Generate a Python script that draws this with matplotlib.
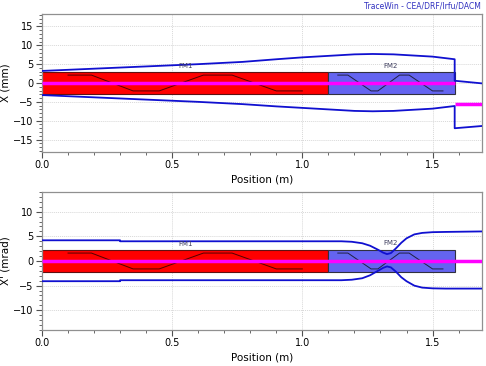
import matplotlib
matplotlib.use("Agg")
import matplotlib.pyplot as plt
from matplotlib.patches import Rectangle
from matplotlib.ticker import MultipleLocator

# elements
fm1_start, fm1_end = 0.0, 1.1
fm2_start, fm2_end = 1.1, 1.585
x_end = 1.69

# field profile (normalised, drawn at 70% of box height)
fm1_wave_x = [0.1, 0.19, 0.35, 0.45, 0.62, 0.73, 0.9, 1.0]
fm1_wave_y = [1, 1, -1, -1, 1, 1, -1, -1]
fm2_wave_x = [1.136, 1.175, 1.264, 1.29, 1.373, 1.41, 1.50, 1.54]
fm2_wave_y = [1, 1, -1, -1, 1, 1, -1, -1]

# X envelope (mm)
env_x = [0, 0.2, 0.4, 0.6, 0.77, 0.9, 1.0, 1.1, 1.2, 1.27, 1.35, 1.45, 1.5, 1.585, 1.585, 1.69]
env_x_up = [3.2, 3.8, 4.4, 5.0, 5.6, 6.3, 6.8, 7.2, 7.6, 7.7, 7.6, 7.2, 7.0, 6.3, 0.6, -0.1]
env_x_lo = [-3.2, -3.8, -4.4, -5.0, -5.6, -6.2, -6.6, -7.0, -7.4, -7.5, -7.4, -7.0, -6.8, -6.1, -12.0, -11.4]
centroid_x_pos = [0, 1.585, float("nan"), 1.585, 1.69]
centroid_x = [0, 0, float("nan"), -5.5, -5.5]

# X' envelope (mrad)
env_xp = [0, 0.3, 0.3, 1.15, 1.19, 1.23, 1.26, 1.29, 1.31, 1.325, 1.34, 1.36, 1.38, 1.40, 1.43, 1.46, 1.5, 1.55, 1.69]
env_xp_up = [4.2, 4.2, 4.0, 4.0, 3.9, 3.6, 3.1, 2.3, 1.7, 1.4, 1.6, 2.6, 3.7, 4.6, 5.4, 5.7, 5.85, 5.9, 6.0]
env_xp_lo = [-4.1, -4.1, -3.9, -3.9, -3.8, -3.5, -2.9, -2.0, -1.4, -1.1, -1.3, -2.2, -3.3, -4.1, -5.0, -5.4, -5.55, -5.6, -5.6]
centroid_xp_pos = [0, 1.69]
centroid_xp = [0, 0]

plt.rcParams["font.family"] = "DejaVu Sans"
fig = plt.figure(figsize=(4.86, 3.66), dpi=100)
ax1 = fig.add_axes([0.0864, 0.5847, 0.9054, 0.377])
ax2 = fig.add_axes([0.0864, 0.0984, 0.9054, 0.377])

env_color = "#1010d0"
red = "#ff0000"
blue_box = "#6464f0"


def draw_panel(ax, half, ylim, ymajor, ex, eup, elo, cx, cy, lab_y, ylabel):
    ax.add_patch(Rectangle((fm1_start, -half), fm1_end - fm1_start, 2 * half,
                           facecolor=red, edgecolor="#601010", lw=0.8, zorder=2))
    ax.add_patch(Rectangle((fm2_start, -half), fm2_end - fm2_start, 2 * half,
                           facecolor=blue_box, edgecolor="#303040", lw=0.8, zorder=2))
    amp = 0.7 * half
    ax.plot(fm1_wave_x, [v * amp for v in fm1_wave_y], color="#500000", lw=0.7, zorder=3)
    ax.plot(fm2_wave_x, [v * amp for v in fm2_wave_y], color="#202040", lw=0.7, zorder=3)
    ax.plot(cx, cy, color="#ff00ff", lw=2.5, zorder=4, solid_capstyle="butt")
    ax.plot(ex, eup, color=env_color, lw=1.3, zorder=5)
    ax.plot(ex, elo, color=env_color, lw=1.3, zorder=5)
    ax.text(0.55, lab_y[0], "FM1", fontsize=5, color="#404060", ha="center", va="center", zorder=6)
    ax.text(1.34, lab_y[1], "FM2", fontsize=5, color="#404060", ha="center", va="center", zorder=6)

    ax.set_xlim(0, x_end)
    ax.set_ylim(-ylim, ylim)
    ax.xaxis.set_major_locator(MultipleLocator(0.5))
    ax.xaxis.set_minor_locator(MultipleLocator(0.1))
    ax.yaxis.set_major_locator(MultipleLocator(ymajor))
    ax.yaxis.set_minor_locator(MultipleLocator(1))
    ax.tick_params(which="major", direction="out", length=4, width=0.8, color="#505050",
                   labelsize=7, pad=2)
    ax.tick_params(which="minor", direction="out", length=2, width=0.6, color="#505050")
    ax.grid(True, which="major", color="#d8d8d8", ls=(0, (1, 1)), lw=0.7, zorder=0)
    ax.set_axisbelow(True)
    for s in ax.spines.values():
        s.set_color("#909090")
        s.set_linewidth(0.9)
    ax.set_xlabel("Position (m)", fontsize=7.5, labelpad=3)
    ax.set_ylabel(ylabel, fontsize=7.5, labelpad=2)


draw_panel(ax1, 3.0, 18.3, 5, env_x, env_x_up, env_x_lo, centroid_x_pos, centroid_x,
           (4.6, 4.5), "X (mm)")
draw_panel(ax2, 2.3, 14.0, 5, env_xp, env_xp_up, env_xp_lo, centroid_xp_pos, centroid_xp,
           (3.5, 3.7), "X' (mrad)")

fig.text(0.99, 0.983, "TraceWin - CEA/DRF/Irfu/DACM", fontsize=5.5, color="#3030c0",
         ha="right", va="center")

fig.savefig("out.png", dpi=100)
